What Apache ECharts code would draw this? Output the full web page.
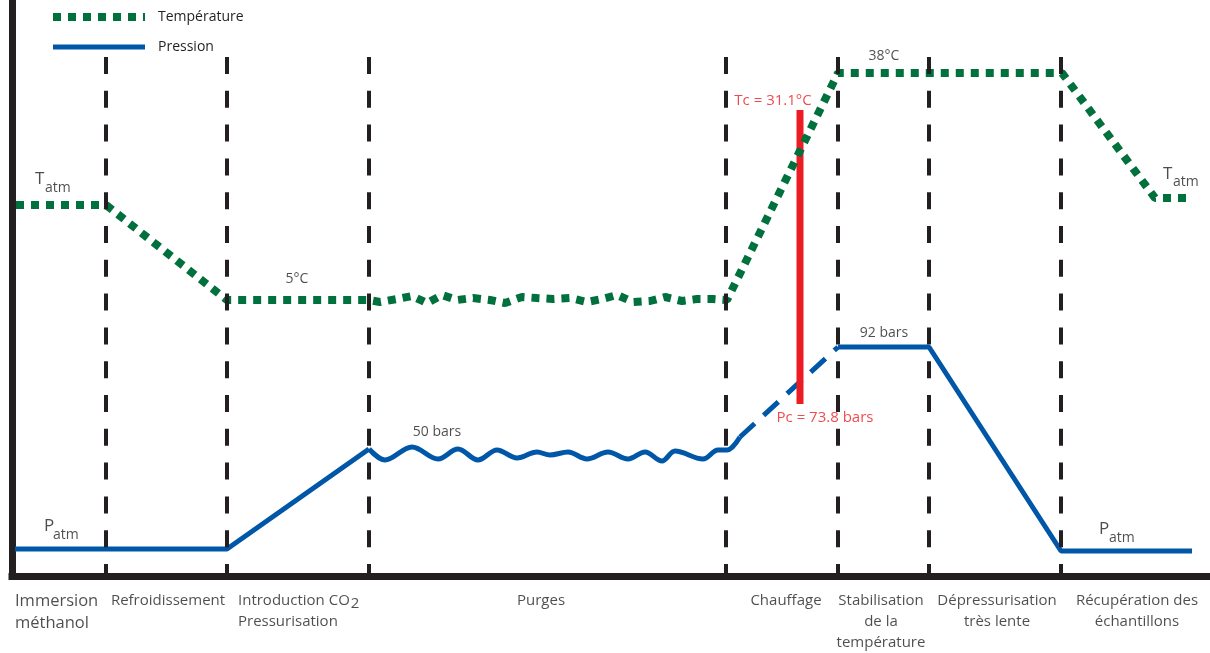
<!DOCTYPE html>
<html>
<head>
<meta charset="utf-8">
<script src="https://cdn.jsdelivr.net/npm/echarts@6/dist/echarts.min.js"></script>
<style>html,body{margin:0;padding:0;background:#fff}#c{width:1210px;height:653px}</style>
</head>
<body>
<div id="c"></div>
<script>
// Schematic time axis (0..1198) and level axis (0..576)
var separatorsX = [94, 215, 357, 714, 826, 917, 1049];
var separatorTop = 519;

var temperature = [[4,371],[94,371],[215,276],[357,276],[368,274],[385,277],[400,280],[415,273],[430,281],[445,276],[461,278],[478,276],[493,273],[510,279],[525,278],[541,277],[558,278],[575,274],[590,277],[605,281],[621,274],[638,275],[653,279],[670,275],[685,277],[701,277],[715,276],[826,503],[1050,503],[1143,378],[1180,378]];

var pressureRise = [[3,27],[215,27],[357,127]];
var pressurePurges = [[357,127],[373,116],[400,129],[426,117],[446,127],[466,116],[485,126],[505,118],[525,124],[538,121],[556,124],[575,117],[596,124],[616,117],[633,124],[650,115],[663,125],[691,117],[706,126],[715,126],[728,139]];
var pressureHeating = [[728,139],[826,229]];
var pressureEnd = [[826,229],[917,229],[1049,25],[1180,25]];

var criticalBar = [[788,466],[788,172]];

var phaseNames = ['Immersion\nméthanol', 'Refroidissement', 'Introduction CO{s|2}\nPressurisation', 'Purges', 'Chauffage', 'Stabilisation\nde la\ntempérature', 'Dépressurisation\ntrès lente', 'Récupération des\néchantillons'];
var phaseX = [3, 156, 226, 529, 774, 869, 985, 1125];
var phaseAlign = ['left', 'center', 'left', 'center', 'center', 'center', 'center', 'center'];
var phaseY = -14;

var noteTexts = ['5°C', '50 bars', '38°C', '92 bars', 'Tc = 31.1°C', 'Pc = 73.8 bars'];
var notePoints = [[285,297],[425,144],[872,520],[872,243],[761,475],[813,158]];
var noteColors = ['#231f20','#231f20','#231f20','#231f20','#ed1c24','#ed1c24'];

var atmMain = ['T', 'T', 'P', 'P'];
var atmMainPoints = [[23,397],[1151,402],[32,50],[1087,47]];
var atmSubPoints = [[33,388],[1161,394],[41,41],[1097,38]];

var FONT = '"Open Sans", "DejaVu Sans", sans-serif';
var INK = '#231f20';
var GREEN = '#00703c';
var BLUE = '#0057a8';
var RED = '#ed1c24';

function textItems() {
  var items = [];
  phaseNames.forEach(function (t, i) {
    items.push({
      value: [phaseX[i], phaseY],
      label: {
        show: true, position: 'inside', formatter: t,
        align: phaseAlign[i], verticalAlign: 'top',
        fontSize: i === 0 ? 16.5 : 15, lineHeight: i === 0 ? 22 : 21,
        color: INK, fontFamily: FONT,
        rich: { s: { fontSize: 15, fontFamily: FONT, color: INK, padding: [7, 0, 0, 1] } }
      }
    });
  });
  noteTexts.forEach(function (t, i) {
    items.push({
      value: notePoints[i],
      label: { show: true, position: 'inside', formatter: t, align: 'center', verticalAlign: 'middle', fontSize: i >= 4 ? 15 : 14, color: noteColors[i], fontFamily: FONT }
    });
  });
  atmMain.forEach(function (t, i) {
    items.push({
      value: atmMainPoints[i],
      label: { show: true, position: 'inside', formatter: t, align: 'left', verticalAlign: 'middle', fontSize: 17, color: INK, fontFamily: FONT }
    });
    items.push({
      value: atmSubPoints[i],
      label: { show: true, position: 'inside', formatter: 'atm', align: 'left', verticalAlign: 'middle', fontSize: 14, color: INK, fontFamily: FONT }
    });
  });
  return items;
}

var chart = echarts.init(document.getElementById('c'), null, { renderer: 'canvas' });
chart.setOption({
  animation: false,
  backgroundColor: '#fff',
  grid: { left: 12, right: 0, top: 0, bottom: 77 },
  legend: {
    data: [
      { name: 'Température', itemStyle: { opacity: 0 }, lineStyle: { color: GREEN, width: 8, type: [8, 7], cap: 'butt', opacity: 1 } },
      { name: 'Pression', itemStyle: { opacity: 0 }, lineStyle: { color: BLUE, width: 5, type: 'solid', opacity: 1 } }
    ],
    orient: 'vertical', left: 44, top: 5,
    itemWidth: 92, itemHeight: 14, itemGap: 16,
    selectedMode: false,
    textStyle: { fontSize: 14, color: INK, fontFamily: FONT, padding: [0, 0, 0, 8] }
  },
  xAxis: {
    type: 'value', min: 0, max: 1198,
    axisLine: { show: true, onZero: false, lineStyle: { color: INK, width: 7, cap: 'square' } },
    axisTick: { show: false }, axisLabel: { show: false }, splitLine: { show: false }
  },
  yAxis: {
    type: 'value', min: 0, max: 576,
    axisLine: { show: true, onZero: false, lineStyle: { color: INK, width: 7, cap: 'square' } },
    axisTick: { show: false }, axisLabel: { show: false }, splitLine: { show: false }
  },
  series: [
    {
      name: 'Séparations', type: 'line', data: [], silent: true,
      markLine: {
        silent: true, symbol: ['none', 'none'], label: { show: false },
        lineStyle: { color: INK, width: 4, type: [17, 16.8], cap: 'butt' },
        data: separatorsX.map(function (x) { return [{ coord: [x, separatorTop] }, { coord: [x, 0] }]; })
      }
    },
    {
      name: 'Pression', type: 'line', data: pressureRise, symbol: 'none',
      lineStyle: { color: BLUE, width: 5 }, itemStyle: { color: BLUE }
    },
    {
      name: 'Pression', type: 'line', data: pressurePurges, symbol: 'none', smooth: 0.35,
      lineStyle: { color: BLUE, width: 5 }, itemStyle: { color: BLUE }
    },
    {
      name: 'Pression', type: 'line', data: pressureHeating, symbol: 'none',
      lineStyle: { color: BLUE, width: 5, type: [20, 12] }, itemStyle: { color: BLUE }
    },
    {
      name: 'Pression', type: 'line', data: pressureEnd, symbol: 'none',
      lineStyle: { color: BLUE, width: 5 }, itemStyle: { color: BLUE }
    },
    {
      name: 'Point critique', type: 'line', data: criticalBar, symbol: 'none',
      lineStyle: { color: RED, width: 7 }, itemStyle: { color: RED }, z: 3
    },
    {
      name: 'Température', type: 'line', data: temperature, symbol: 'none',
      lineStyle: { color: GREEN, width: 8, type: [8, 7], cap: 'butt' }, itemStyle: { color: GREEN }, z: 4
    },
    {
      name: 'Textes', type: 'scatter', symbolSize: 0, clip: false, silent: true,
      data: textItems(), z: 5
    }
  ]
});
</script>
</body>
</html>
